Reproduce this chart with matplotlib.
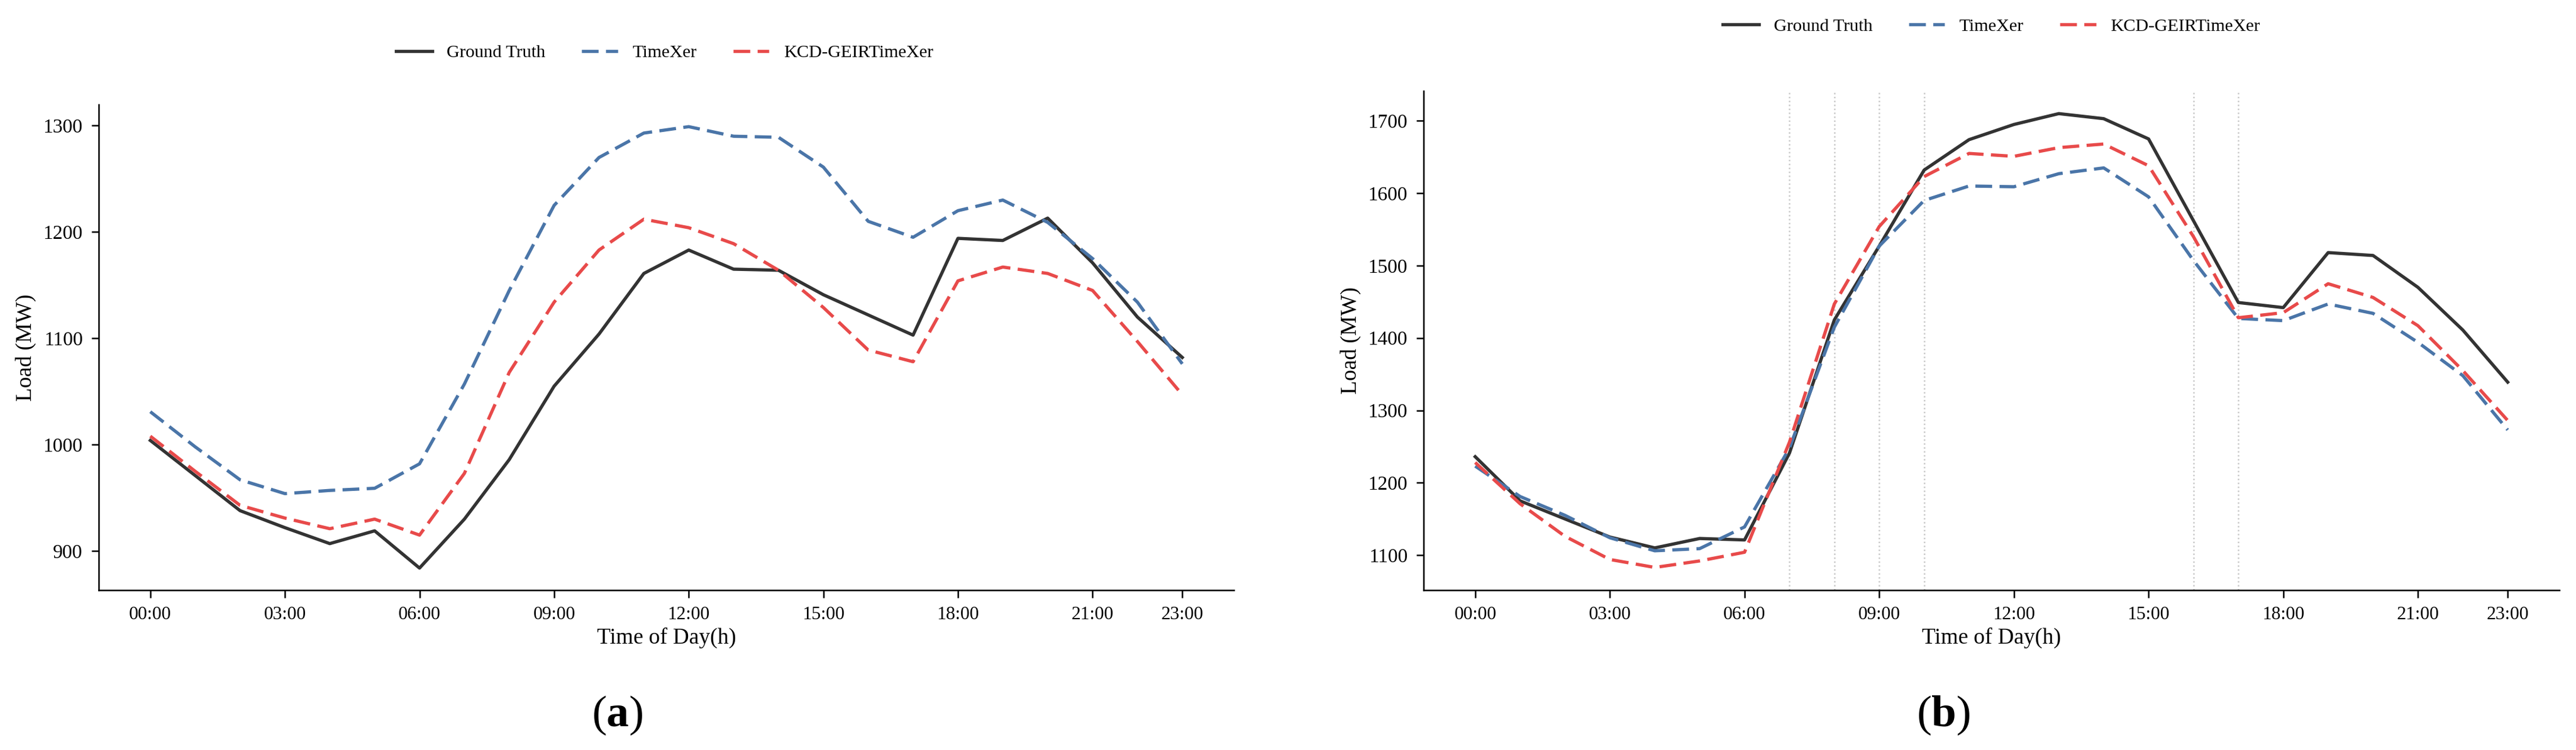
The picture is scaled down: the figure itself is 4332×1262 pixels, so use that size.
import numpy as np
import matplotlib
matplotlib.use('Agg')
from matplotlib import pyplot as plt

plt.rcParams['font.family'] = ['Liberation Serif', 'DejaVu Serif']
plt.rcParams['mathtext.fontset'] = 'custom'
plt.rcParams['mathtext.rm'] = 'Liberation Serif'
plt.rcParams['mathtext.bf'] = 'Liberation Serif:bold'

hours = list(range(24))
tick_hours = [0, 3, 6, 9, 12, 15, 18, 21, 23]
tick_labels = ['00:00', '03:00', '06:00', '09:00', '12:00', '15:00', '18:00', '21:00', '23:00']

# panel (a)
truth_a = [1004, 971, 938, 922, 907, 919, 884, 930, 986, 1055, 1104, 1161,
           1183, 1165, 1164, 1141, 1122, 1103, 1194, 1192, 1213, 1171, 1120, 1082]
timexer_a = [1031, 998, 967, 954, 957, 959, 982, 1057, 1145, 1225, 1270, 1293,
             1299, 1290, 1289, 1261, 1210, 1195, 1220, 1230, 1209, 1175, 1134, 1076]
kcd_a = [1008, 975, 943, 931, 921, 930, 915, 973, 1068, 1134, 1183, 1212,
         1204, 1189, 1164, 1129, 1089, 1078, 1154, 1167, 1161, 1145, 1097, 1047]

# panel (b)
truth_b = [1236, 1175, 1150, 1125, 1110, 1123, 1121, 1241, 1425, 1527, 1632, 1674,
           1695, 1710, 1703, 1675, 1562, 1449, 1442, 1518, 1514, 1470, 1411, 1339]
timexer_b = [1223, 1181, 1155, 1124, 1106, 1109, 1139, 1248, 1415, 1527, 1590, 1610,
             1609, 1627, 1635, 1595, 1507, 1427, 1424, 1447, 1434, 1394, 1348, 1273]
kcd_b = [1228, 1171, 1126, 1094, 1083, 1092, 1104, 1256, 1447, 1554, 1623, 1655,
         1651, 1663, 1668, 1638, 1540, 1428, 1435, 1475, 1456, 1417, 1355, 1286]
marker_hours_b = [7, 8, 9, 10, 16, 17]

names = ['Ground Truth', 'TimeXer', 'KCD-GEIRTimeXer']
c_truth = '#333333'
c_timexer = '#4a75a8'
c_kcd = '#e84a4a'
dash = (5.2, 2.3)

W, H = 4332, 1262
fig = plt.figure(figsize=(W / 300, H / 300), dpi=300)
ax_a = fig.add_axes([166 / W, 1 - 993 / H, 1909 / W, 817 / H])
ax_b = fig.add_axes([2394 / W, 1 - 993 / H, 1910 / W, 840 / H])


def draw_panel(ax, truth, timexer, kcd):
    ax.plot(hours, truth, color=c_truth, lw=1.3, label=names[0])
    ax.plot(hours, timexer, color=c_timexer, lw=1.3, linestyle=(0, dash), label=names[1])
    ax.plot(hours, kcd, color=c_kcd, lw=1.3, linestyle=(0, dash), label=names[2])
    ax.set_xticks(tick_hours)
    ax.set_xticklabels(tick_labels)
    ax.tick_params(axis='x', labelsize=7.5, width=0.6, length=3)
    ax.tick_params(axis='y', labelsize=8, width=0.6, length=3)
    ax.set_xlabel('Time of Day(h)', fontsize=9, labelpad=1.5)
    ax.set_ylabel('Load (MW)', fontsize=9)
    ax.yaxis.set_label_coords(-0.055, 0.5)
    for side in ['top', 'right']:
        ax.spines[side].set_visible(False)
    for side in ['left', 'bottom']:
        ax.spines[side].set_linewidth(0.6)


draw_panel(ax_a, truth_a, timexer_a, kcd_a)
draw_panel(ax_b, truth_b, timexer_b, kcd_b)
for h in marker_hours_b:
    ax_b.axvline(h, color='#c8c8c8', lw=0.6, linestyle=':', zorder=0)

ax_a.legend(loc='center', bbox_to_anchor=(0.4985, 1.107), ncol=3, frameon=False, fontsize=7.3)
ax_b.legend(loc='center', bbox_to_anchor=(0.5, 1.1295), ncol=3, frameon=False, fontsize=7.3)

fig.text(1038 / W, 1 - 1204 / H, r'$(\mathbf{a})$', ha='center', va='center', fontsize=18)
fig.text(3268 / W, 1 - 1204 / H, r'$(\mathbf{b})$', ha='center', va='center', fontsize=18)

fig.savefig('out.png', dpi=300)
